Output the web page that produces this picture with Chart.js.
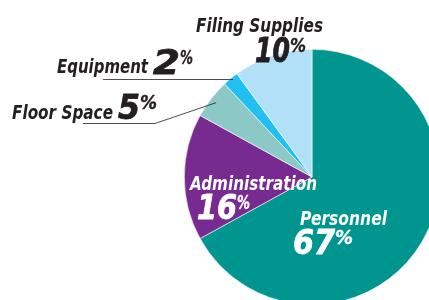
<!DOCTYPE html>
<html>
<head>
<meta charset="utf-8">
<script src="https://cdn.jsdelivr.net/npm/chart.js@4"></script>
<style>
  html, body { margin: 0; padding: 0; background: #fff; }
  #wrap { position: relative; width: 429px; height: 300px; overflow: hidden; }
  #costChart { display: block; }
</style>
</head>
<body>
<div id="wrap">
  <canvas id="costChart" width="460" height="320"></canvas>
</div>
<script>
// Chart data
const categories = ['Personnel', 'Administration', 'Floor Space', 'Equipment', 'Filing Supplies'];
const shares = [67, 16, 5, 2, 10];
const sliceColors = ['#00968f', '#772a8f', '#8cc8c6', '#22c0f0', '#b2e0f7'];

const FONT = '"Liberation Sans Narrow", "DejaVu Sans Condensed", "Liberation Sans", sans-serif';

// draw text squeezed/stretched to a given width
function fitText(ctx, text, x, y, width, size, color, weight) {
    ctx.save();
    ctx.font = 'italic bold ' + size + 'px ' + FONT;
    ctx.fillStyle = color;
    ctx.strokeStyle = color;
    ctx.textBaseline = 'alphabetic';
    ctx.textAlign = 'left';
    const w = ctx.measureText(text).width;
    ctx.translate(x, y);
    ctx.scale(width / w, 1);
    ctx.fillText(text, 0, 0);
    if (weight) {
        ctx.lineWidth = weight;
        ctx.lineJoin = 'round';
        ctx.strokeText(text, 0, 0);
    }
    ctx.restore();
}

// big number with small raised percent sign
function percentText(ctx, idx, x, y, numWidth, pctWidth, color) {
    fitText(ctx, String(shares[idx]), x, y, numWidth, 34, color, 0.8);
    fitText(ctx, '%', x + numWidth, y - 10, pctWidth, 20, color, 0.4);
}

// point on a slice, at fraction of its radius
function slicePoint(arc, frac) {
    const p = arc.getProps(['x', 'y', 'startAngle', 'endAngle', 'outerRadius'], true);
    const mid = (p.startAngle + p.endAngle) / 2;
    return { x: p.x + Math.cos(mid) * p.outerRadius * frac, y: p.y + Math.sin(mid) * p.outerRadius * frac };
}

const labelPlugin = {
    id: 'sliceLabels',
    afterDatasetsDraw(chart) {
        const ctx = chart.ctx;
        const arcs = chart.getDatasetMeta(0).data;
        const dark = '#231f20';

        // leader lines
        ctx.save();
        ctx.strokeStyle = '#231f20';
        ctx.lineWidth = 0.8;
        const eq = slicePoint(arcs[3], 0.97);
        ctx.beginPath();
        ctx.moveTo(103, 79.5);
        ctx.lineTo(eq.x, 79.5);
        ctx.stroke();
        const fs = slicePoint(arcs[2], 0.95);
        ctx.beginPath();
        ctx.moveTo(83, 123.5);
        ctx.lineTo(155, 123.5);
        ctx.lineTo(fs.x, fs.y);
        ctx.stroke();
        ctx.restore();

        // outside labels
        fitText(ctx, categories[4], 196, 32, 127, 19, dark);
        percentText(ctx, 4, 255, 62, 35, 16, dark);
        fitText(ctx, categories[3], 57, 73, 91, 19, dark);
        percentText(ctx, 3, 153, 74, 27, 13, dark);
        fitText(ctx, categories[2], 12, 119, 101, 19, dark);
        percentText(ctx, 2, 118, 119, 22, 17, dark);

        // inside labels
        fitText(ctx, categories[1], 190, 190, 127, 19, '#fff');
        percentText(ctx, 1, 197, 219, 40, 13, '#fff');
        fitText(ctx, categories[0], 300, 225, 87, 19, '#fff');
        percentText(ctx, 0, 293, 254, 42, 18, '#fff');
    }
};

const ctx = document.getElementById('costChart').getContext('2d');
new Chart(ctx, {
    type: 'pie',
    data: {
        labels: categories,
        datasets: [{
            data: shares,
            backgroundColor: sliceColors,
            borderColor: '#ffffff',
            borderWidth: 0.6
        }]
    },
    options: {
        responsive: false,
        animation: false,
        layout: {
            padding: { left: 184, top: 49, right: 20, bottom: 15 }
        },
        plugins: {
            legend: { display: false },
            tooltip: { enabled: false }
        }
    },
    plugins: [labelPlugin]
});
</script>
</body>
</html>
